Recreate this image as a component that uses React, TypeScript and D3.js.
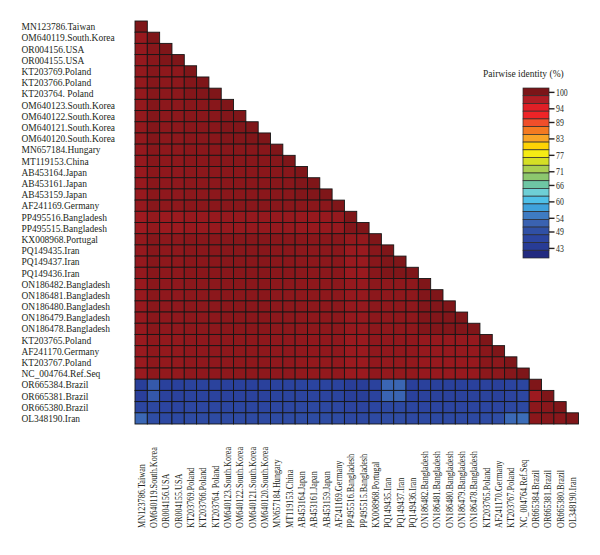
import * as d3 from 'd3'

// Sequence names, top to bottom (also left to right along the x axis)
const sequences = [
  'MN123786.Taiwan',
  'OM640119.South.Korea',
  'OR004156.USA',
  'OR004155.USA',
  'KT203769.Poland',
  'KT203766.Poland',
  'KT203764. Poland',
  'OM640123.South.Korea',
  'OM640122.South.Korea',
  'OM640121.South.Korea',
  'OM640120.South.Korea',
  'MN657184.Hungary',
  'MT119153.China',
  'AB453164.Japan',
  'AB453161.Japan',
  'AB453159.Japan',
  'AF241169.Germany',
  'PP495516.Bangladesh',
  'PP495515.Bangladesh',
  'KX008968.Portugal',
  'PQ149435.Iran',
  'PQ149437.Iran',
  'PQ149436.Iran',
  'ON186482.Bangladesh',
  'ON186481.Bangladesh',
  'ON186480.Bangladesh',
  'ON186479.Bangladesh',
  'ON186478.Bangladesh',
  'KT203765.Poland',
  'AF241170.Germany',
  'KT203767.Poland',
  'NC_004764.Ref.Seq',
  'OR665384.Brazil',
  'OR665381.Brazil',
  'OR665380.Brazil',
  'OL348190.Iran'
]

// Lower triangle of pairwise identity (%), row i holds columns 0..i
const identity: number[][] = [
  [100],
  [98.7, 100],
  [98.8, 99.5, 100],
  [98.8, 99.5, 99.9, 100],
  [98.9, 99.6, 99.2, 99.2, 100],
  [98.9, 99.6, 99.3, 99.3, 99.7, 100],
  [98.9, 99.6, 99.3, 99.3, 99.7, 99.8, 100],
  [98.9, 99.7, 99.3, 99.3, 99.5, 99.5, 99.5, 100],
  [98.9, 99.7, 99.3, 99.3, 99.5, 99.5, 99.5, 99.8, 100],
  [98.9, 99.7, 99.3, 99.3, 99.5, 99.5, 99.5, 99.8, 99.8, 100],
  [98.9, 99.7, 99.3, 99.3, 99.5, 99.5, 99.5, 99.8, 99.8, 99.9, 100],
  [98.8, 99.5, 99.2, 99.2, 99.4, 99.4, 99.4, 99.5, 99.5, 99.5, 99.5, 100],
  [98.8, 99.5, 99.2, 99.2, 99.4, 99.4, 99.4, 99.5, 99.5, 99.5, 99.5, 99.6, 100],
  [98.7, 99.4, 99.1, 99.1, 99.3, 99.3, 99.3, 99.4, 99.4, 99.4, 99.4, 99.5, 99.5, 100],
  [98.7, 99.4, 99.1, 99.1, 99.3, 99.3, 99.3, 99.4, 99.4, 99.4, 99.4, 99.5, 99.5, 99.8, 100],
  [98.7, 99.4, 99.1, 99.1, 99.3, 99.3, 99.3, 99.4, 99.4, 99.4, 99.4, 99.5, 99.5, 99.8, 99.8, 100],
  [98.8, 99.5, 99.2, 99.2, 99.4, 99.4, 99.4, 99.5, 99.5, 99.5, 99.5, 99.5, 99.5, 99.4, 99.4, 99.4, 100],
  [98.3, 98.9, 98.5, 98.5, 98.7, 98.7, 98.7, 98.8, 98.8, 98.8, 98.8, 98.8, 98.8, 98.7, 98.7, 98.7, 98.8, 100],
  [98.3, 98.9, 98.5, 98.5, 98.7, 98.7, 98.7, 98.8, 98.8, 98.8, 98.8, 98.8, 98.8, 98.7, 98.7, 98.7, 98.8, 99.8, 100],
  [98.9, 99.6, 99.3, 99.3, 99.5, 99.5, 99.5, 99.6, 99.6, 99.6, 99.6, 99.5, 99.5, 99.4, 99.4, 99.4, 99.5, 98.9, 98.9, 100],
  [98.8, 99.5, 99.2, 99.2, 99.4, 99.4, 99.4, 99.5, 99.5, 99.5, 99.5, 99.4, 99.4, 99.3, 99.3, 99.3, 99.4, 98.6, 98.6, 99.5, 100],
  [98.8, 99.5, 99.2, 99.2, 99.4, 99.4, 99.4, 99.5, 99.5, 99.5, 99.5, 99.4, 99.4, 99.3, 99.3, 99.3, 99.4, 98.6, 98.6, 99.5, 99.9, 100],
  [98.8, 99.5, 99.2, 99.2, 99.4, 99.4, 99.4, 99.5, 99.5, 99.5, 99.5, 99.4, 99.4, 99.3, 99.3, 99.3, 99.4, 98.6, 98.6, 99.5, 99.9, 99.9, 100],
  [98.7, 99.4, 99.1, 99.1, 99.3, 99.3, 99.3, 99.4, 99.4, 99.4, 99.4, 99.3, 99.3, 99.2, 99.2, 99.2, 99.3, 98.8, 98.8, 99.3, 99.2, 99.2, 99.2, 100],
  [98.7, 99.4, 99.1, 99.1, 99.3, 99.3, 99.3, 99.4, 99.4, 99.4, 99.4, 99.3, 99.3, 99.2, 99.2, 99.2, 99.3, 98.8, 98.8, 99.3, 99.2, 99.2, 99.2, 99.8, 100],
  [98.7, 99.4, 99.1, 99.1, 99.3, 99.3, 99.3, 99.4, 99.4, 99.4, 99.4, 99.3, 99.3, 99.2, 99.2, 99.2, 99.3, 98.8, 98.8, 99.3, 99.2, 99.2, 99.2, 99.8, 99.8, 100],
  [98.7, 99.4, 99.1, 99.1, 99.3, 99.3, 99.3, 99.4, 99.4, 99.4, 99.4, 99.3, 99.3, 99.2, 99.2, 99.2, 99.3, 98.8, 98.8, 99.3, 99.2, 99.2, 99.2, 99.8, 99.8, 99.8, 100],
  [98.7, 99.4, 99.1, 99.1, 99.3, 99.3, 99.3, 99.4, 99.4, 99.4, 99.4, 99.3, 99.3, 99.2, 99.2, 99.2, 99.3, 98.8, 98.8, 99.3, 99.2, 99.2, 99.2, 99.8, 99.8, 99.8, 99.8, 100],
  [98.6, 99.2, 98.9, 98.9, 99.1, 99.1, 99.1, 99.2, 99.2, 99.2, 99.2, 99.1, 99.1, 99.0, 99.0, 99.0, 99.1, 98.6, 98.6, 99.1, 99.0, 99.0, 99.0, 98.8, 98.8, 98.8, 98.8, 98.8, 100],
  [98.6, 99.2, 98.9, 98.9, 99.1, 99.1, 99.1, 99.2, 99.2, 99.2, 99.2, 99.1, 99.1, 99.0, 99.0, 99.0, 99.1, 98.6, 98.6, 99.1, 99.0, 99.0, 99.0, 98.8, 98.8, 98.8, 98.8, 98.8, 99.4, 100],
  [98.6, 99.2, 98.9, 98.9, 99.1, 99.1, 99.1, 99.2, 99.2, 99.2, 99.2, 99.1, 99.1, 98.9, 98.9, 98.9, 99.0, 98.5, 98.5, 99.0, 98.9, 98.9, 98.9, 98.7, 98.7, 98.7, 98.7, 98.7, 99.4, 99.3, 100],
  [98.6, 99.2, 98.9, 98.9, 99.1, 99.1, 99.1, 99.2, 99.2, 99.2, 99.2, 99.1, 99.1, 98.9, 98.9, 98.9, 99.0, 98.5, 98.5, 99.0, 98.9, 98.9, 98.9, 98.7, 98.7, 98.7, 98.7, 98.7, 99.3, 99.3, 99.6, 100],
  [44.6, 50.8, 45.4, 45.4, 45.8, 45.8, 45.8, 45.4, 45.4, 45.4, 45.4, 45.9, 45.9, 46.2, 46.2, 46.2, 45.9, 44.4, 44.4, 45.7, 52.6, 52.6, 45.1, 45.3, 45.3, 45.3, 45.3, 45.3, 45.6, 45.0, 46.2, 46.8, 100],
  [44.8, 50.5, 45.6, 45.6, 46.0, 46.0, 46.0, 45.6, 45.6, 45.6, 45.6, 46.1, 46.1, 46.4, 46.4, 46.4, 46.1, 44.6, 44.6, 45.9, 52.4, 52.4, 45.3, 45.5, 45.5, 45.5, 45.5, 45.5, 45.8, 45.2, 46.4, 47.0, 98.4, 100],
  [46.8, 47.4, 46.6, 46.6, 47.0, 47.0, 47.0, 46.8, 46.8, 46.8, 46.8, 47.1, 47.1, 47.3, 47.3, 47.3, 47.1, 46.4, 46.4, 46.9, 47.6, 47.6, 46.8, 46.6, 46.6, 46.6, 46.6, 46.6, 46.9, 46.5, 47.2, 47.5, 99.3, 99.5, 100],
  [52.8, 48.6, 47.6, 47.6, 48.0, 48.0, 48.0, 47.8, 47.8, 47.8, 47.8, 48.1, 48.1, 48.3, 48.3, 48.3, 48.1, 47.4, 47.4, 47.9, 48.4, 48.4, 47.7, 47.5, 47.5, 47.5, 47.5, 47.5, 48.2, 48.6, 53.0, 53.4, 99.4, 99.6, 99.5, 100]
]

// Colour key bands, top (high identity) to bottom
const bandColors = [
  '#7b1518', '#b01d24', '#e01f26', '#ee2427', '#f04e2a', '#f47a21',
  '#f9a526', '#fed305', '#f5eb14', '#d5df26', '#a9cf52', '#8cc76e',
  '#6ec6a4', '#6ecfd6', '#4fc0e8', '#3fa2dc', '#3e7bc2', '#3a62b1',
  '#3050a5', '#2c45a0', '#283c96', '#222a80'
]
const keyTicks = [100, 94, 89, 83, 77, 71, 66, 60, 54, 49, 43]
const keyDomain: [number, number] = [39.5, 101.6]

const WIDTH = 600
const HEIGHT = 555
const GRID = { left: 135, top: 21, right: 578.5, bottom: 424 }
const KEY = { x: 523, w: 26, top: 88, bottom: 258 }
const FONT = '"Liberation Serif", "Times New Roman", serif'
const INK = '#231f20'

export default function App() {
  const idx = sequences.map((_, i) => i)

  const x = d3.scaleBand<number>().domain(idx).range([GRID.left, GRID.right])
  const y = d3.scaleBand<number>().domain(idx).range([GRID.top, GRID.bottom])

  // legend position scale and the continuous colour ramp through band centres
  const keyY = d3.scaleLinear().domain(keyDomain).range([KEY.bottom, KEY.top])
  const bands = d3.scaleBand<number>()
    .domain(bandColors.map((_, i) => i))
    .range([KEY.top, KEY.bottom])
  const bandStep = (keyDomain[1] - keyDomain[0]) / bandColors.length
  const centres = bandColors.map((_, i) => keyDomain[1] - (i + 0.5) * bandStep)
  const color = d3.scaleLinear<string>()
    .domain(centres.slice().reverse())
    .range(bandColors.slice().reverse())
    .interpolate(d3.interpolateRgb)
    .clamp(true)

  return (
    <svg
      width={WIDTH}
      height={HEIGHT}
      style={{ position: 'absolute', left: 0, top: 0, background: '#fff' }}
      fontFamily={FONT}
    >
      {/* heatmap cells */}
      <g>
        {identity.map((row, i) =>
          row.map((v, j) => (
            <rect
              key={`${i}-${j}`}
              x={x(j)}
              y={y(i)}
              width={x.bandwidth()}
              height={y.bandwidth()}
              fill={color(v)}
              stroke="#161616"
              strokeWidth={0.9}
            />
          ))
        )}
      </g>

      {/* row labels */}
      <g fill={INK} fontSize={10.4}>
        {sequences.map((name, i) => (
          <text
            key={name + i}
            transform={`translate(21.5, ${(y(i) ?? 0) + y.bandwidth() / 2}) scale(0.91, 1)`}
            dy="0.35em"
          >
            {name}
          </text>
        ))}
      </g>

      {/* column labels */}
      <g fill={INK} fontSize={10.4}>
        {sequences.map((name, j) => (
          <text
            key={name + j}
            transform={`translate(${(x(j) ?? 0) + x.bandwidth() / 2}, 528) rotate(-90) scale(0.79, 1)`}
            dy="0.35em"
          >
            {name}
          </text>
        ))}
      </g>

      {/* colour key */}
      <g>
        <text x={483} y={77} fontSize={9.5} fill={INK}>Pairwise identity (%)</text>
        {bandColors.map((c, i) => (
          <rect
            key={c + i}
            x={KEY.x}
            y={bands(i)}
            width={KEY.w}
            height={bands.bandwidth()}
            fill={c}
            stroke="#2a2a2a"
            strokeWidth={0.7}
          />
        ))}
        {keyTicks.map(t => (
          <g key={t} transform={`translate(${KEY.x + KEY.w}, ${keyY(t)})`}>
            <line x1={0} x2={5.5} stroke={INK} strokeWidth={1.4} />
            <text
              transform="translate(7, 0) scale(0.82, 1)"
              dy="0.35em"
              fontSize={9.5}
              fill={INK}
            >
              {t}
            </text>
          </g>
        ))}
      </g>
    </svg>
  )
}
